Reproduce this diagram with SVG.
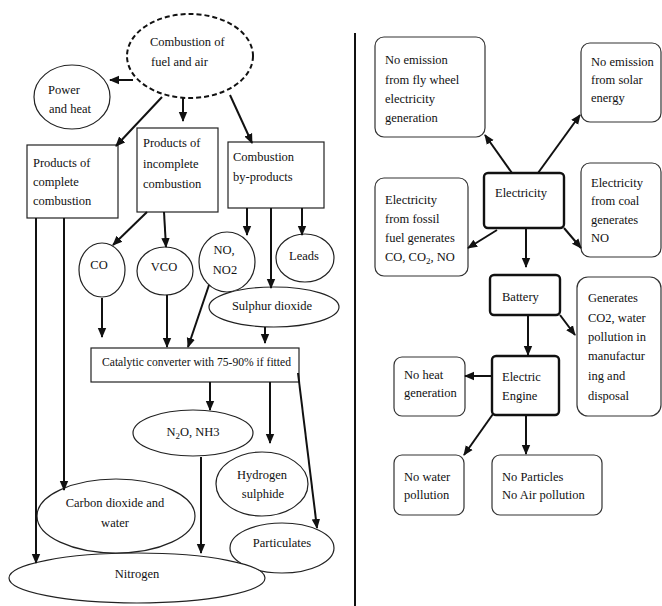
<svg xmlns="http://www.w3.org/2000/svg" width="662" height="606" viewBox="0 0 662 606">
<style>
text{font-family:"Liberation Serif","Times New Roman",serif;font-size:12.5px;fill:#111}
.m{text-anchor:middle}
.n{fill:#fff;stroke:#222;stroke-width:1.2}
.r{fill:#fff;stroke:#333;stroke-width:1.2}
.t{fill:#fff;stroke:#111;stroke-width:2.4}
.c line{stroke:#111;stroke-width:2;marker-end:url(#a)}
</style>
<defs>
<marker id="a" markerUnits="userSpaceOnUse" markerWidth="10" markerHeight="10" refX="9" refY="5" orient="auto">
<path d="M0,0.8 L10,5 L0,9.2 z" fill="#111"/>
</marker>
</defs>
<rect width="662" height="606" fill="#fff"/>
<line x1="355" y1="33" x2="355" y2="606" stroke="#111" stroke-width="2"/>

<g id="combustion"><ellipse cx="190" cy="56" rx="63" ry="42" fill="#fff" stroke="#111" stroke-width="2" stroke-dasharray="5,3"/><text x="150" y="46">Combustion of</text><text x="151" y="66">fuel and air</text></g>
<g id="power"><ellipse class="n" cx="72" cy="97" rx="38" ry="32"/><text x="48" y="94">Power</text><text x="49" y="113">and heat</text></g>
<g id="complete"><rect class="n" x="27" y="145" width="91" height="73"/><text x="33" y="167">Products of</text><text x="33" y="186">complete</text><text x="33" y="205">combustion</text></g>
<g id="incomplete"><rect class="n" x="137" y="128" width="81" height="84"/><text x="143" y="147">Products of</text><text x="143" y="168">incomplete</text><text x="143" y="188">combustion</text></g>
<g id="byproducts"><rect class="n" x="228" y="142" width="96" height="66"/><text x="233" y="161">Combustion</text><text x="233" y="181">by-products</text></g>
<g id="co"><ellipse class="n" cx="102" cy="270" rx="23" ry="27"/><text class="m" x="99" y="269">CO</text></g>
<g id="vco"><ellipse class="n" cx="165" cy="271" rx="28" ry="24"/><text class="m" x="164" y="271">VCO</text></g>
<g id="no"><ellipse class="n" cx="227" cy="262" rx="28" ry="30"/><text class="m" x="224" y="254">NO,</text><text class="m" x="225" y="274">NO2</text></g>
<g id="leads"><ellipse class="n" cx="305" cy="258" rx="29" ry="24"/><text class="m" x="304" y="260">Leads</text></g>
<g id="sulphur"><ellipse class="n" cx="274" cy="307" rx="65" ry="20"/><text class="m" x="272" y="310">Sulphur dioxide</text></g>
<g id="catalytic"><rect class="n" x="91" y="348" width="208" height="34"/><text x="102" y="366" style="font-size:11.6px">Catalytic converter with 75-90% if fitted</text></g>
<g id="n2o"><ellipse class="n" cx="193" cy="433" rx="60" ry="23"/><text class="m" x="193" y="436">N<tspan dy="3" style="font-size:9px">2</tspan><tspan dy="-3">O, NH3</tspan></text></g>
<g id="h2s"><ellipse class="n" cx="262" cy="484" rx="46" ry="32"/><text class="m" x="262" y="479">Hydrogen</text><text class="m" x="263" y="498">sulphide</text></g>
<g id="co2water"><ellipse class="n" cx="116" cy="516" rx="79" ry="37"/><text class="m" x="115" y="507">Carbon dioxide and</text><text class="m" x="115" y="527">water</text></g>
<g id="particulates"><ellipse class="n" cx="282" cy="548" rx="52" ry="25"/><text class="m" x="282" y="547">Particulates</text></g>
<g id="nitrogen"><ellipse class="n" cx="137" cy="578" rx="128" ry="25"/><text class="m" x="137" y="578">Nitrogen</text></g>

<g id="flywheel"><rect class="r" x="375" y="37" width="110" height="100" rx="9"/><text x="385" y="64">No emission</text><text x="385" y="84">from fly wheel</text><text x="385" y="103">electricity</text><text x="385" y="122">generation</text></g>
<g id="solar"><rect class="r" x="581" y="43" width="80" height="79" rx="9"/><text x="591" y="66">No emission</text><text x="591" y="84">from solar</text><text x="591" y="102">energy</text></g>
<g id="electricity"><rect class="t" x="484" y="173" width="80" height="55" rx="4"/><text x="495" y="197">Electricity</text></g>
<g id="fossil"><rect class="r" x="375" y="178" width="93" height="98" rx="9"/><text x="385" y="204">Electricity</text><text x="385" y="223">from fossil</text><text x="385" y="242">fuel generates</text><text x="385" y="261">CO, CO<tspan dy="3" style="font-size:9px">2</tspan><tspan dy="-3">, NO</tspan></text></g>
<g id="coal"><rect class="r" x="581" y="163" width="80" height="94" rx="9"/><text x="591" y="187">Electricity</text><text x="591" y="205">from coal</text><text x="591" y="224">generates</text><text x="591" y="242">NO</text></g>
<g id="battery"><rect class="t" x="490" y="275" width="70" height="40" rx="4"/><text x="502" y="301">Battery</text></g>
<g id="generates"><rect class="r" x="577" y="277" width="84" height="139" rx="11"/><text x="588" y="302">Generates</text><text x="588" y="322">CO2, water</text><text x="588" y="341">pollution in</text><text x="588" y="360">manufactur</text><text x="588" y="380">ing and</text><text x="588" y="400">disposal</text></g>
<g id="engine"><rect class="t" x="492" y="356" width="67" height="59" rx="4"/><text x="502" y="381">Electric</text><text x="502" y="400">Engine</text></g>
<g id="noheat"><rect class="r" x="394" y="357" width="71" height="59" rx="8"/><text x="404" y="379">No heat</text><text x="404" y="397">generation</text></g>
<g id="nowater"><rect class="r" x="394" y="455" width="70" height="60" rx="8"/><text x="404" y="481">No water</text><text x="404" y="499">pollution</text></g>
<g id="noparticles"><rect class="r" x="492" y="455" width="110" height="60" rx="8"/><text x="502" y="481">No Particles</text><text x="502" y="499">No Air pollution</text></g>

<g class="c" id="connectors">
<line x1="133" y1="80" x2="110" y2="80"/>
<line x1="183" y1="97" x2="183" y2="121"/>
<line x1="162" y1="97" x2="116" y2="146"/>
<line x1="230" y1="95" x2="252" y2="143"/>
<line x1="36" y1="218" x2="36" y2="563"/>
<line x1="64" y1="218" x2="64" y2="490"/>
<line x1="147" y1="212" x2="113" y2="245"/>
<line x1="164" y1="212" x2="166" y2="247"/>
<line x1="247" y1="208" x2="247" y2="235"/>
<line x1="271" y1="208" x2="271" y2="288"/>
<line x1="302" y1="208" x2="302" y2="235"/>
<line x1="102" y1="298" x2="102" y2="337"/>
<line x1="167" y1="295" x2="167" y2="347"/>
<line x1="209" y1="285" x2="188" y2="347"/>
<line x1="265" y1="327" x2="265" y2="343"/>
<line x1="210" y1="382" x2="210" y2="410"/>
<line x1="270" y1="382" x2="270" y2="443"/>
<line x1="298" y1="373" x2="317" y2="528"/>
<line x1="201" y1="457" x2="201" y2="553"/>
<line x1="512" y1="173" x2="485" y2="135"/>
<line x1="538" y1="173" x2="580" y2="115"/>
<line x1="497" y1="230" x2="468" y2="248"/>
<line x1="564" y1="228" x2="581" y2="248"/>
<line x1="526" y1="228" x2="526" y2="267"/>
<line x1="560" y1="315" x2="575" y2="335"/>
<line x1="528" y1="315" x2="528" y2="355"/>
<line x1="492" y1="376" x2="465" y2="376"/>
<line x1="493" y1="414" x2="464" y2="455"/>
<line x1="526" y1="415" x2="526" y2="454"/>
</g>
</svg>
